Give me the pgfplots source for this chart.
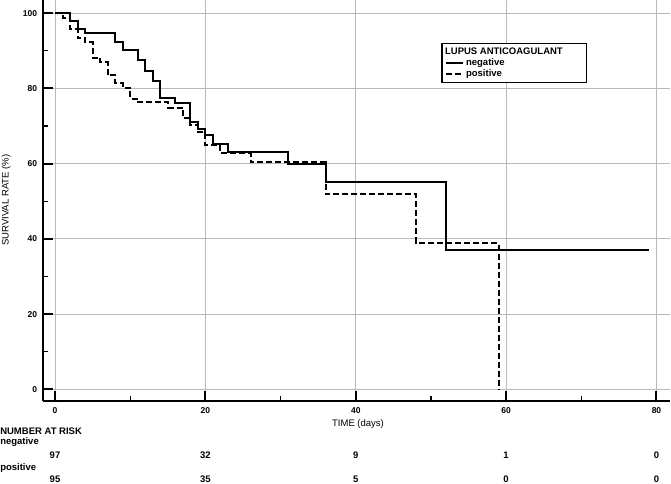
\documentclass[border=0pt]{standalone}
\usepackage{pgfplots}
\pgfplotsset{compat=1.18}
\usepackage{fontspec}
\setmainfont{Liberation Sans}
\newcommand{\fs}{\fontsize{9.5}{11}\selectfont}
\newcommand{\tfs}{\fontsize{8.5}{10}\selectfont}

\begin{document}
\begin{tikzpicture}
\begin{axis}[
  scale only axis, width=627.3pt, height=401pt,
  xmin=-1.64, xmax=81.8, ymin=-3.1, ymax=103.5,
  axis x line=bottom, axis y line=left,
  axis line style={-, line width=2pt},
  xtick={0,20,40,60,80}, ytick={0,20,40,60,80,100},
  minor x tick num=1, minor y tick num=1,
  tick align=inside,
  major tick length=10pt, minor tick length=5pt,
  major tick style={line width=2pt, black},
  minor tick style={line width=1.3pt, black},
  grid=major, major grid style={gray!55, line width=0.8pt},
  /pgf/number format/assume math mode=true,
  ticklabel style={font=\tfs\bfseries},
  xticklabel style={yshift=-3pt},
  yticklabel style={xshift=-2pt},
  xlabel={TIME (days)}, ylabel={SURVIVAL RATE (\%)},
  every axis x label/.style={at={(axis cs:40.3,-9.3)}, anchor=center, font=\fs},
  every axis y label/.style={at={(axis cs:-6.5,50.3)}, rotate=90, anchor=center, font=\fs},
  clip=false,
  legend cell align=left,
  legend style={at={(axis cs:51.39,92.1)}, anchor=north west, draw=black, line width=1.3pt, font=\fs\bfseries, row sep=-1pt},
]
\addlegendimage{empty legend}
\addlegendentry{\hspace{-21pt}LUPUS ANTICOAGULANT\rule{19pt}{0pt}}

\addplot[black, line width=2pt, const plot, mark=none] coordinates {
(0,100) (2,97.9) (3,95.8) (4,94.6) (8,92.4) (9,90.2) (11,87.6) (12,84.7) (13,81.9)
(14,77.5) (16,76.1) (18,71.0) (19,69.3) (20,67.6) (21,65.3) (23,63.0) (31,60.0)
(36,55.1) (52,37.0) (79,37.0)
};
\addlegendentry{negative}

\addplot[black, line width=2pt, dash pattern=on 6pt off 3pt, const plot, mark=none] coordinates {
(0,100) (1,98.8) (2,95.7) (3,93.4) (4,92.4) (5,88.2) (6,87.0) (7,83.5) (8,81.5)
(9,80.2) (10,77.3) (11,76.4) (15,74.9) (17,72.0) (18,70.2) (19,68.4) (20,64.9)
(22,62.7) (26,60.4) (36,52.0) (48,38.9) (59,0)
};
\addlegendentry{positive}

\node[font=\fs\bfseries, anchor=west, inner sep=0pt] at (axis cs:-7.31,-11.08) {NUMBER AT RISK};
\node[font=\fs\bfseries, anchor=west, inner sep=0pt] at (axis cs:-7.31,-14.1) {negative};
\node[font=\fs\bfseries, anchor=west, inner sep=0pt] at (axis cs:-7.31,-21.0) {positive};
\node[font=\fs\bfseries] at (axis cs:0,-17.46) {97};
\node[font=\fs\bfseries] at (axis cs:20,-17.46) {32};
\node[font=\fs\bfseries] at (axis cs:40,-17.46) {9};
\node[font=\fs\bfseries] at (axis cs:60,-17.46) {1};
\node[font=\fs\bfseries] at (axis cs:80,-17.46) {0};
\node[font=\fs\bfseries] at (axis cs:0,-23.8) {95};
\node[font=\fs\bfseries] at (axis cs:20,-23.8) {35};
\node[font=\fs\bfseries] at (axis cs:40,-23.8) {5};
\node[font=\fs\bfseries] at (axis cs:60,-23.8) {0};
\node[font=\fs\bfseries] at (axis cs:80,-23.8) {0};
\end{axis}
\pgfresetboundingbox
\path (-42.7pt,-82pt) rectangle (628.3pt,401pt);
\end{tikzpicture}
\end{document}
